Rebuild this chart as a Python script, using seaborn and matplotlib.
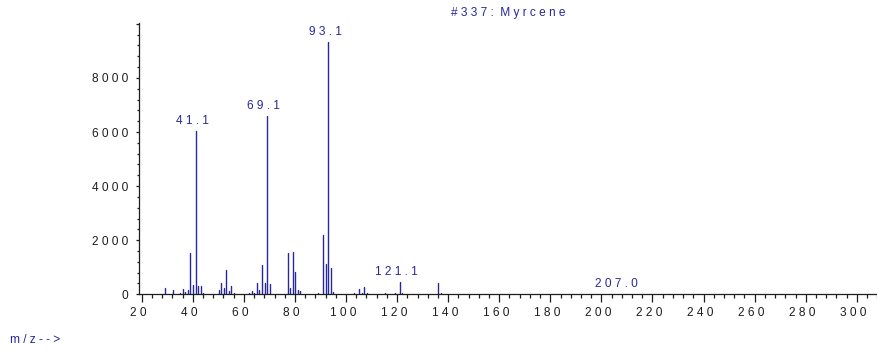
import matplotlib
matplotlib.use("Agg")
import matplotlib.pyplot as plt
from matplotlib.ticker import MultipleLocator, FuncFormatter
import pandas as pd
import seaborn as sns

# Mass spectrum of scan #337 (Myrcene): centroid m/z and abundance
mz = [29.1, 32.1, 35.1, 36.1, 37.1, 38.1, 39.1, 40.1, 41.1, 42.1, 43.1, 44.1,
      50.1, 51.1, 52.1, 53.1, 54.1, 55.1, 56.1,
      62.1, 63.1, 64.1, 65.1, 66.1, 67.1, 68.1, 69.1, 70.1,
      74.1, 75.1, 77.1, 78.1, 79.1, 80.1, 81.1, 82.1,
      89.1, 91.1, 92.1, 93.1, 94.1, 95.1,
      103.1, 105.1, 106.1, 107.1, 108.1,
      115.1, 117.1, 119.1, 121.1, 122.1,
      136.1, 137.1, 207.0]
abundance = [240, 160, 50, 190, 90, 170, 1520, 340, 6040, 290, 290, 60,
             150, 410, 250, 900, 110, 300, 50,
             50, 120, 50, 430, 160, 1085, 400, 6600, 380,
             30, 30, 1530, 230, 1550, 810, 160, 130,
             40, 2200, 1110, 9330, 990, 100,
             60, 190, 60, 260, 60,
             40, 30, 40, 440, 40,
             410, 40, 15]
labeled_mz = [41.1, 69.1, 93.1, 121.1, 207.0]
title = "#337: Myrcene"
x_label = "m/z-->"

BLUE = "#28289c"
INK = "#1e1e1e"


def spaced(s, trailing="  "):
    """Letter-spaced text as used by the instrument software."""
    words = [" ".join(w) for w in s.split(" ")]
    return "  ".join(words) + trailing


rows = []
for i, (m, a) in enumerate(zip(mz, abundance)):
    rows.append({"peak": i, "mz": m, "abundance": 0})
    rows.append({"peak": i, "mz": m, "abundance": a})
df = pd.DataFrame(rows)

sns.set_theme(style="ticks")
plt.rcParams["font.family"] = ["Liberation Sans", "DejaVu Sans"]

fig = plt.figure(figsize=(8.78, 3.51), dpi=100)
ax = fig.add_axes([0.1583, 0.1615, 0.8417, 0.7721])

sns.lineplot(data=df, x="mz", y="abundance", units="peak", estimator=None,
             sort=False, color=BLUE, linewidth=1.0, legend=False, ax=ax)

fs = 8.6
for m in labeled_mz:
    a = abundance[mz.index(m)]
    ax.annotate(spaced(f"{m:.1f}"), xy=(m, a), xytext=(0, 3),
                textcoords="offset points", ha="center", va="bottom",
                color=BLUE, fontsize=fs)

ax.set_xlim(18.94, 308.3)
ax.set_ylim(0, 10020)
ax.xaxis.set_major_locator(MultipleLocator(20))
ax.xaxis.set_minor_locator(MultipleLocator(4))
ax.yaxis.set_major_locator(MultipleLocator(2000))
ax.yaxis.set_minor_locator(MultipleLocator(400))
ax.xaxis.set_major_formatter(FuncFormatter(lambda v, p: spaced(f"{v:.0f}")))
ax.yaxis.set_major_formatter(FuncFormatter(
    lambda v, p: spaced(f"{v:.0f}", trailing="") if v < 9000 else ""))

ax.tick_params(axis="x", which="major", length=5.8, width=0.9, pad=3,
               labelsize=fs, colors=INK)
ax.tick_params(axis="x", which="minor", length=3.2, width=0.9, colors=INK)
ax.tick_params(axis="y", which="major", length=2.2, width=0.9, pad=5.5,
               labelsize=fs, colors=INK)
ax.tick_params(axis="y", which="minor", length=1.6, width=0.9, colors=INK)

for side in ("top", "right"):
    ax.spines[side].set_visible(False)
for side in ("left", "bottom"):
    ax.spines[side].set_color(INK)
    ax.spines[side].set_linewidth(0.9)

ax.set_xlabel("")
ax.set_ylabel("")

fig.text(0.5794, 1 - 13 / 351, spaced(title, trailing=""), ha="center",
         va="center", color=BLUE, fontsize=fs)
fig.text(0.011, 1 - 340 / 351, spaced(x_label, trailing=""), ha="left",
         va="center", color=BLUE, fontsize=fs)

fig.savefig("out.png", dpi=100)
